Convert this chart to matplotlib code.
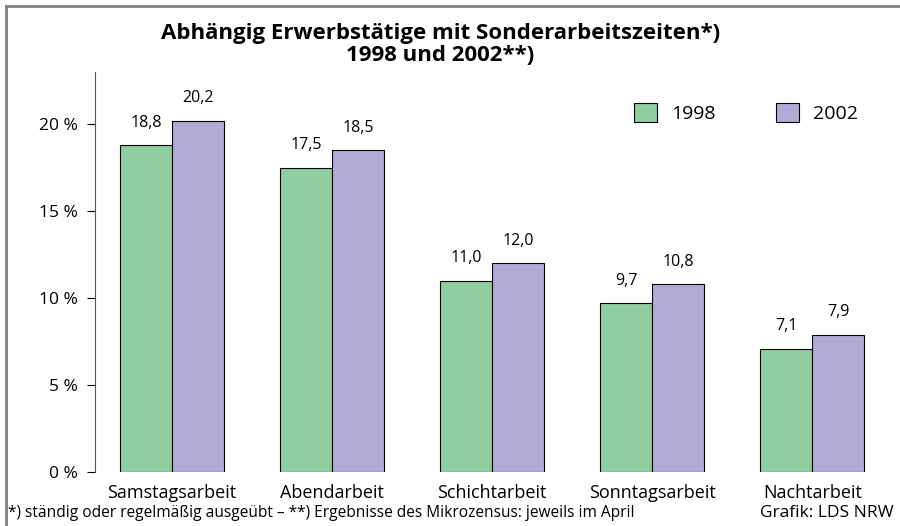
import numpy as np
import matplotlib.pyplot as plt
from matplotlib.lines import Line2D

plt.rcParams['font.family'] = ['Open Sans', 'DejaVu Sans']

# data
categories = ['Samstagsarbeit', 'Abendarbeit', 'Schichtarbeit', 'Sonntagsarbeit', 'Nachtarbeit']
values_1998 = [18.8, 17.5, 11.0, 9.7, 7.1]
values_2002 = [20.2, 18.5, 12.0, 10.8, 7.9]
yticks = [0, 5, 10, 15, 20]
ytick_labels = ['0 %', '5 %', '10 %', '15 %', '20 %']

green = '#8fce9f'
purple = '#b0aad6'

fig = plt.figure(figsize=(9, 5.26), dpi=100)
ax = fig.add_axes([0.1056, 0.1027, 0.877, 0.76])

x = np.arange(len(categories))
w = 0.325
b1 = ax.bar(x - w / 2, values_1998, w, color=green, edgecolor='black', linewidth=0.8, label='1998')
b2 = ax.bar(x + w / 2, values_2002, w, color=purple, edgecolor='black', linewidth=0.8, label='2002')

for bars, vals in ((b1, values_1998), (b2, values_2002)):
    for r, v in zip(bars, vals):
        ax.annotate(f'{v:.1f}'.replace('.', ','), (r.get_x() + r.get_width() / 2, v),
                    xytext=(0, 10.5), textcoords='offset points', ha='center', va='bottom', fontsize=11.5)

ax.set_xlim(-0.48, 4.45)
ax.set_ylim(0, 23)
ax.set_yticks(yticks)
ax.set_yticklabels(ytick_labels, fontsize=12.5)
ax.set_xticks(x)
ax.set_xticklabels(categories, fontsize=13)
ax.tick_params(axis='x', length=0, pad=9)
ax.tick_params(axis='y', length=6, width=0.8, pad=6)
for s in ['top', 'right', 'bottom']:
    ax.spines[s].set_visible(False)
ax.spines['left'].set_color('#555555')
ax.spines['left'].set_linewidth(0.8)

ax.legend(loc='center right', bbox_to_anchor=(0.966, 0.8975), ncol=2, frameon=False, fontsize=14,
          handlelength=1.2, handleheight=1.13, columnspacing=3.1, handletextpad=0.7,
          borderpad=0, borderaxespad=0)

fig.text(0.489, 0.915, 'Abhängig Erwerbstätige mit Sonderarbeitszeiten*)\n1998 und 2002**)',
         ha='center', va='center', fontsize=16, fontweight='bold', linespacing=1.05)
fig.text(0.009, 0.024, '*) ständig oder regelmäßig ausgeübt – **) Ergebnisse des Mikrozensus: jeweils im April',
         ha='left', va='center', fontsize=11.2)
fig.text(0.993, 0.024, 'Grafik: LDS NRW', ha='right', va='center', fontsize=12.5)

# grey frame, only top and left edges show
fig.add_artist(Line2D([0.007, 1.0], [0.988, 0.988], transform=fig.transFigure, color='#808080', linewidth=2))
fig.add_artist(Line2D([0.007, 0.007], [0.0, 0.988], transform=fig.transFigure, color='#808080', linewidth=2))

fig.savefig('out.png', dpi=100)
